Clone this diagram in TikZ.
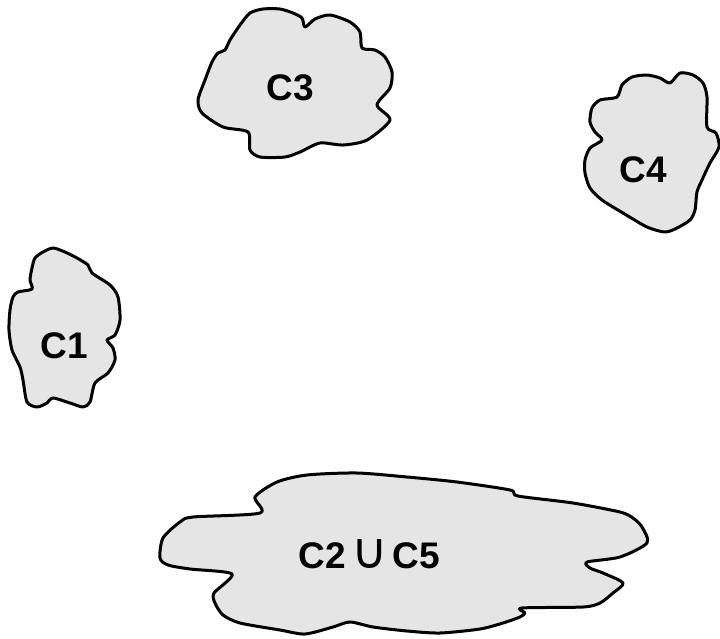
\documentclass[tikz,border=0pt]{standalone}
\usepackage{fontspec}
\setmainfont{Liberation Sans}
\newfontfamily\cupfont{DejaVu Sans}
\usepackage{tikz}
\definecolor{blobgray}{rgb}{0.9,0.9,0.9}

\begin{document}
\begin{tikzpicture}[
  x=0.5pt, y=-0.5pt,
  blob/.style={
    draw=black, fill=blobgray, line width=1.5pt, line join=round
  },
  lbl/.style={
    font=\fontsize{18.5}{21}\selectfont\bfseries, inner sep=0pt
  },
]
\useasboundingbox (0,0) rectangle (720,639);

%% ---- Cluster C3 ----
\draw[blob] plot[smooth cycle, tension=0.45] coordinates {
  (305,27) (302,18) (293,13) (280,9) (263,9) (250,13) (240,25) (230,40)
  (225,50) (218,53) (212,62) (205,80) (198,100) (202,113) (223,127)
  (248,132) (250,150) (260,157) (285,157) (300,152) (320,143) (343,145)
  (367,140) (390,120) (377,105) (390,88) (392,72) (385,57) (375,50)
  (362,48) (360,32) (350,22) (330,15) (315,19)};
\node[lbl] (c3) at (290,88) {C3};

%% ---- Cluster C4 ----
\draw[blob] plot[smooth cycle, tension=0.45] coordinates {
  (670,83) (680,73) (693,75) (703,83) (707,97) (707,127) (716,133)
  (719,147) (710,163) (702,180) (697,192) (695,210) (690,220) (677,228)
  (665,232) (647,227) (623,213) (602,200) (590,188) (585,173) (585,160)
  (590,148) (602,140) (595,132) (590,122) (592,108) (600,100) (617,97)
  (622,85) (632,77) (647,75) (660,78)};
\node[lbl] (c4) at (643,170) {C4};

%% ---- Cluster C1 ----
\draw[blob] plot[smooth cycle, tension=0.45] coordinates {
  (53,248) (65,252) (77,258) (88,265) (92,273) (110,285) (118,297)
  (120,320) (115,335) (107,340) (113,348) (115,360) (108,373) (95,383)
  (90,402) (83,407) (70,403) (53,398) (47,403) (37,407) (27,402)
  (23,380) (20,367) (12,350) (9,330) (10,310) (13,297) (18,292)
  (32,289) (30,280) (32,268) (35,258) (43,252)};
\node[lbl] (c1) at (64,346) {C1};

%% ---- Merged cluster C2 u C5 ----
\draw[blob] plot[smooth cycle, tension=0.45] coordinates {
  (255,497) (277,482) (307,475) (357,473) (407,477) (457,482) (510,490)
  (518,496) (573,503) (620,512) (633,518) (642,527) (647,543) (620,557)
  (587,562) (590,568) (603,573) (623,583) (613,593) (600,603) (583,607)
  (522,608) (525,613) (520,617) (503,623) (480,629) (440,633) (407,631)
  (373,627) (350,622) (333,627) (305,634) (280,630) (240,623) (223,615)
  (215,603) (214,593) (232,574) (190,569) (168,565) (160,558) (163,538)
  (180,522) (193,517) (260,513)};
\node[lbl] (c25) at (369,554)
  {C2\hspace{3pt}{\cupfont\mdseries\fontsize{25}{25}\selectfont ∪}\hspace{2pt}C5};

\end{tikzpicture}
\end{document}
